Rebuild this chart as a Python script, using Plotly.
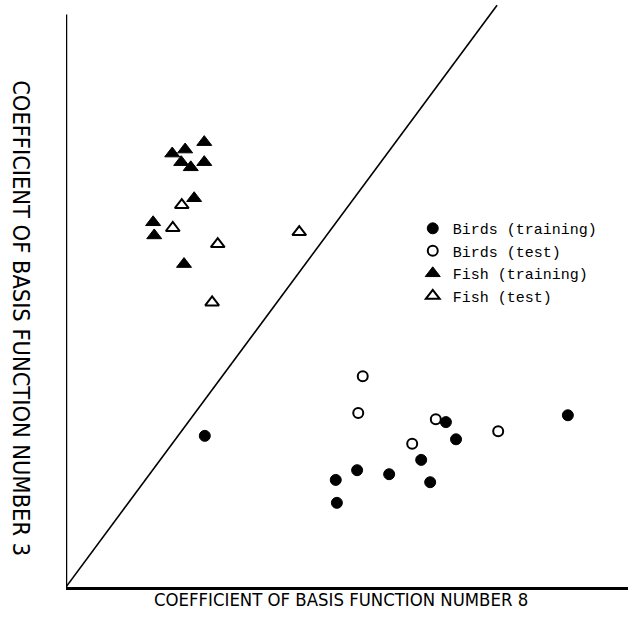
import plotly.graph_objects as go

# Data (arbitrary coefficient units)
birds_train_x = [24.7, 67.6, 89.3, 69.4, 63.2, 51.8, 57.5, 48.0, 64.8, 48.2]
birds_train_y = [26.4, 28.8, 30.0, 25.8, 22.2, 20.4, 19.7, 18.7, 18.3, 14.7]

birds_test_x = [52.8, 52.0, 65.8, 61.6, 76.9]
birds_test_y = [36.8, 30.4, 29.3, 25.0, 27.2]

fish_train_x = [24.6, 18.9, 21.2, 20.5, 22.2, 24.6, 22.8, 15.5, 15.7, 21.0]
fish_train_y = [77.7, 75.7, 76.4, 74.2, 73.3, 74.2, 67.9, 63.7, 61.4, 56.4]

fish_test_x = [20.6, 19.0, 27.0, 41.5, 26.0]
fish_test_y = [66.7, 62.7, 59.9, 62.0, 49.7]

boundary_x = [0, 76.7]
boundary_y = [0, 101.6]

x_title = "COEFFICIENT OF BASIS FUNCTION NUMBER 8"
y_title = "COEFFICIENT OF BASIS FUNCTION NUMBER 3"

fig = go.Figure()

fig.add_trace(go.Scatter(x=boundary_x, y=boundary_y, mode="lines",
                         line=dict(color="black", width=1.6), showlegend=False,
                         hoverinfo="skip"))

fig.add_trace(go.Scatter(x=birds_train_x, y=birds_train_y, mode="markers",
                         name="Birds (training)", cliponaxis=False,
                         marker=dict(symbol="circle", size=11, color="black",
                                     line=dict(color="black", width=1))))
fig.add_trace(go.Scatter(x=birds_test_x, y=birds_test_y, mode="markers",
                         name="Birds (test)", cliponaxis=False,
                         marker=dict(symbol="circle-open", size=10, color="black",
                                     line=dict(color="black", width=2))))
fig.add_trace(go.Scatter(x=fish_train_x, y=fish_train_y, mode="markers",
                         name="Fish (training)", cliponaxis=False,
                         marker=dict(symbol="triangle-up", size=13, color="black",
                                     line=dict(color="black", width=1))))
fig.add_trace(go.Scatter(x=fish_test_x, y=fish_test_y, mode="markers",
                         name="Fish (test)", cliponaxis=False,
                         marker=dict(symbol="triangle-up-open", size=12, color="black",
                                     line=dict(color="black", width=2))))

# left axis line (stops below the top of the figure)
fig.add_shape(type="line", xref="x", yref="y", x0=0, y0=0, x1=0, y1=100,
              line=dict(color="black", width=2.5))

title_font = "Liberation Sans Narrow, DejaVu Sans Condensed, Arial Narrow, sans-serif"
fig.add_annotation(text=x_title, xref="paper", yref="paper",
                   x=0.489, y=-0.022, xanchor="center", yanchor="middle",
                   showarrow=False,
                   font=dict(family=title_font, size=18.4, color="black"))
fig.add_annotation(text=y_title, xref="paper", yref="paper",
                   x=-0.079, y=0.461, xanchor="center", yanchor="middle",
                   textangle=90, showarrow=False,
                   font=dict(family=title_font, size=23.4, color="black"))

fig.update_xaxes(range=[0, 100], showline=True, linecolor="black", linewidth=2.5,
                 showgrid=False, zeroline=False, showticklabels=False, ticks="")
fig.update_yaxes(range=[0, 102], showline=False, showgrid=False, zeroline=False,
                 showticklabels=False, ticks="")

fig.update_layout(
    width=637, height=641,
    margin=dict(l=66, r=9, t=3, b=54),
    paper_bgcolor="white", plot_bgcolor="white",
    showlegend=True,
    legend=dict(x=0.617, y=0.642, xanchor="left", yanchor="top",
                bgcolor="rgba(0,0,0,0)",
                font=dict(family="Liberation Mono, DejaVu Sans Mono, monospace",
                          size=15, color="black")),
)

fig.write_html("out.html", config={"displayModeBar": False},
               post_script="document.body.style.margin='0';")
